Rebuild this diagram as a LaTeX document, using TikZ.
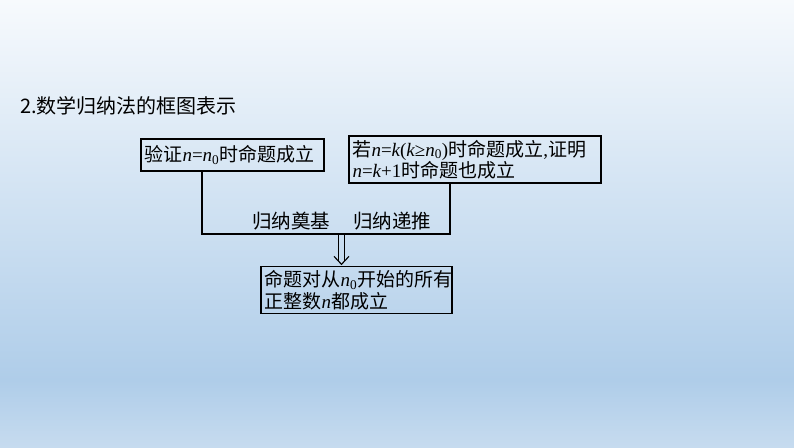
\documentclass[tikz,border=0pt]{standalone}
\usepackage{fontspec}
\setmainfont{Liberation Serif}
\newfontfamily\cjk{Noto Sans CJK SC}
\usetikzlibrary{arrows.meta,calc}
\definecolor{bgtop}{HTML}{F7FAFD}
\definecolor{bgmid}{HTML}{AFCDE9}
\definecolor{bgbot}{HTML}{C6DBEF}
\newcommand{\mr}[1]{{\rmfamily #1}}
\newcommand{\vi}[1]{{\rmfamily\itshape #1}}
\newcommand{\nz}{{\rmfamily\itshape n\textsubscript{\upshape 0}}}
\begin{document}
\begin{tikzpicture}[x=1pt,y=-1pt,
  box/.style={draw=black, line width=1.3pt, inner xsep=3.5pt, inner ysep=0pt, align=left,
    font=\fontsize{19}{21.5}\selectfont\cjk},
  conn/.style={draw=black, line width=1.3pt},
  arr/.style={draw=black, line width=1.1pt},
  lab/.style={font=\fontsize{19.5}{21}\selectfont\cjk, inner sep=0pt}]
\useasboundingbox (0,0) rectangle (794,447);
\shade[top color=bgtop, bottom color=bgmid] (0,0) rectangle (794,380);
\shade[top color=bgmid, bottom color=bgbot] (0,380) rectangle (794,447);
\node[anchor=west, inner sep=0pt, font=\fontsize{20}{24}\selectfont\cjk] (title) at (20,106) {2.数学归纳法的框图表示};
\node[box, text width=176pt, minimum height=32pt] (b1) at (232.5,155) {验证\vi{n}\mr{=}\nz 时命题成立};
\node[box, text width=245pt, minimum height=47pt] (b2) at (475,159.5) {若\vi{n}\mr{=}\vi{k}\mr{(}\vi{k}\mr{≥}\nz\mr{)}时命题成立\mr{,}证明\\\vi{n}\mr{=}\vi{k}\mr{+1}时命题也成立};
\node[box, text width=184pt, minimum height=47pt] (b3) at (356.5,290) {命题对从\nz 开始的所有\\正整数\vi{n}都成立};
\coordinate (cl) at (202,234);
\coordinate (cr) at (450,234);
\coordinate (cm) at (341.5,234);
\coordinate (tip) at (cm |- b3.north);
\draw[conn] (b1.south -| cl) -- (cl) -- (cr) -- (b2.south -| cr);
\draw[arr] ($(cm)+(-3,0)$) -- ($(tip)+(-3,-5)$);
\draw[arr] ($(cm)+(3,0)$) -- ($(tip)+(3,-5)$);
\draw[arr, line join=miter] ($(tip)+(-7.5,-9.5)$) -- ($(tip)+(0,-1.5)$) -- ($(tip)+(7.5,-9.5)$);
\node[lab] (l1) at (291,221) {归纳奠基};
\node[lab] (l2) at (392,221) {归纳递推};
\end{tikzpicture}
\end{document}
